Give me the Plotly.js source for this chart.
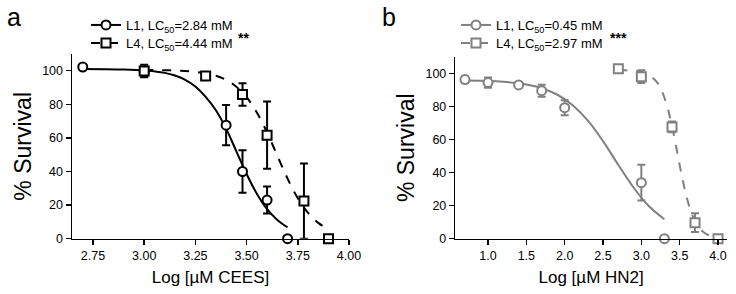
<!DOCTYPE html>
<html>
<head>
<meta charset="utf-8">
<script src="https://cdn.plot.ly/plotly-3.0.1.min.js"></script>
<style>html,body{margin:0;padding:0;background:#fff;}#chart{width:736px;height:294px;}</style>
</head>
<body>
<div id="chart"></div>
<script>
// ---------- Panel a (CEES) ----------
const aL1_x = [2.70, 3.00, 3.40, 3.48, 3.60, 3.70];
const aL1_y = [102.2, 99.2, 67.6, 40.0, 23.0, 0];
const aL1_err = [0, 2.5, 12, 12.7, 8, 0];
const aL4_x = [3.00, 3.30, 3.48, 3.60, 3.78, 3.90];
const aL4_y = [99.8, 96.8, 85.8, 61.6, 22.4, 0];
const aL4_err = [3.7, 1.5, 6.7, 20, 22.4, 0];
const aL1_fitx = [2.70, 2.80, 2.90, 3.00, 3.05, 3.10, 3.15, 3.20, 3.25, 3.30, 3.35, 3.40, 3.45, 3.50, 3.55, 3.60, 3.65, 3.70];
const aL1_fity = [101.0, 100.9, 100.7, 100.2, 99.6, 98.7, 97.1, 94.6, 90.6, 84.4, 76.5, 65.5, 52.0, 38.5, 26.8, 17.6, 11.2, 6.8];
const aL4_fitx = [3.00, 3.05, 3.10, 3.15, 3.20, 3.25, 3.30, 3.35, 3.40, 3.45, 3.50, 3.55, 3.60, 3.65, 3.70, 3.75, 3.80, 3.85, 3.90];
const aL4_fity = [100.4, 100.4, 100.3, 100.1, 99.8, 99.3, 98.5, 97.0, 94.5, 90.5, 84.2, 75.1, 63.2, 49.4, 35.8, 24.1, 15.4, 9.4, 5.6];
const aTicks = [2.75, 3.00, 3.25, 3.50, 3.75, 4.00];
const aTickText = ['2.75', '3.00', '3.25', '3.50', '3.75', '4.00'];

// ---------- Panel b (HN2) ----------
const bL1_x = [0.70, 1.00, 1.40, 1.70, 2.00, 3.00, 3.30];
const bL1_y = [96.2, 94.4, 93.0, 89.5, 79.2, 33.9, 0];
const bL1_err = [2, 3.1, 0, 3.6, 4.6, 10.8, 0];
const bL4_x = [2.70, 3.00, 3.40, 3.70, 4.00];
const bL4_y = [102.7, 98.0, 67.6, 9.7, 0];
const bL4_err = [0, 3.8, 3.2, 5.7, 0];
const bL1_fitx = [0.67, 0.90, 1.10, 1.30, 1.50, 1.70, 1.90, 2.10, 2.30, 2.50, 2.70, 2.90, 3.10, 3.30];
const bL1_fity = [95.7, 95.5, 95.2, 94.5, 93.2, 91.0, 87.2, 80.9, 71.5, 59.0, 44.6, 30.8, 19.6, 11.8];
const bL4_fitx = [2.70, 2.80, 2.90, 3.00, 3.10, 3.20, 3.25, 3.30, 3.35, 3.40, 3.45, 3.50, 3.55, 3.60, 3.65, 3.70, 3.80, 3.90, 4.00];
const bL4_fity = [101.9, 101.8, 101.6, 100.9, 99.1, 94.9, 91.0, 85.4, 77.8, 68.0, 56.5, 44.5, 33.2, 23.5, 16.0, 10.6, 4.4, 1.7, 0.7];
const bTicks = [1.0, 1.5, 2.0, 2.5, 3.0, 3.5, 4.0];
const bTickText = ['1.0', '1.5', '2.0', '2.5', '3.0', '3.5', '4.0'];

const yTicks = [0, 20, 40, 60, 80, 100];
const legendA = ['L1, LC<sub>50</sub>=2.84 mM', 'L4, LC<sub>50</sub>=4.44 mM'];
const legendB = ['L1, LC<sub>50</sub>=0.45 mM', 'L4, LC<sub>50</sub>=2.97 mM'];

const W = 736, H = 294;
const px = v => v / W;
const py = v => 1 - v / H;
const FONT = 'Liberation Sans, Arial, sans-serif';
const BLACK = '#000000';
const GRAY = '#808080';

function curve(x, y, color, dash, xa, ya) {
  return {x: x, y: y, xaxis: xa, yaxis: ya, type: 'scatter', mode: 'lines',
    line: {color: color, width: 2, dash: dash, shape: 'spline'}, showlegend: false, hoverinfo: 'skip'};
}
function pts(x, y, err, color, symbol, xa, ya) {
  return {x: x, y: y, xaxis: xa, yaxis: ya, type: 'scatter', mode: 'markers', cliponaxis: false,
    marker: {symbol: symbol, size: 9, color: '#ffffff', line: {color: color, width: 2}},
    error_y: {type: 'data', array: err, visible: true, color: color, thickness: 2, width: 4},
    showlegend: false};
}
function leg(name, color, symbol, dash, legendId, xa, ya) {
  return {x: [null], y: [null], xaxis: xa, yaxis: ya, type: 'scatter', mode: 'lines+markers', name: name,
    legend: legendId, line: {color: color, width: 2, dash: dash},
    marker: {symbol: symbol, size: 9, color: '#ffffff', line: {color: color, width: 2}}};
}

const data = [
  curve(aL1_fitx, aL1_fity, BLACK, 'solid', 'x', 'y'),
  curve(aL4_fitx, aL4_fity, BLACK, 'dash', 'x', 'y'),
  pts(aL1_x, aL1_y, aL1_err, BLACK, 'circle', 'x', 'y'),
  pts(aL4_x, aL4_y, aL4_err, BLACK, 'square', 'x', 'y'),
  leg(legendA[0], BLACK, 'circle', 'solid', 'legend', 'x', 'y'),
  leg(legendA[1], BLACK, 'square', 'dash', 'legend2', 'x', 'y'),
  curve(bL1_fitx, bL1_fity, GRAY, 'solid', 'x2', 'y2'),
  curve(bL4_fitx, bL4_fity, GRAY, 'dash', 'x2', 'y2'),
  pts(bL1_x, bL1_y, bL1_err, GRAY, 'circle', 'x2', 'y2'),
  pts(bL4_x, bL4_y, bL4_err, GRAY, 'square', 'x2', 'y2'),
  leg(legendB[0], GRAY, 'circle', 'solid', 'legend3', 'x2', 'y2'),
  leg(legendB[1], GRAY, 'square', 'dash', 'legend4', 'x2', 'y2')
];

const axBase = {showgrid: false, zeroline: false, showline: true, linecolor: '#000', linewidth: 1.5,
  ticks: 'outside', ticklen: 5, tickwidth: 1.5, tickcolor: '#000',
  tickfont: {family: FONT, size: 12.5, color: '#000'}, fixedrange: true};

function legBox(xpx, ytop) {
  return {x: px(xpx), xanchor: 'left', y: py(ytop), yanchor: 'top', bgcolor: 'rgba(0,0,0,0)',
    font: {family: FONT, size: 13, color: '#000'}, tracegroupgap: 0, itemclick: false};
}

const layout = {
  width: W, height: H, margin: {l: 0, r: 0, t: 0, b: 0},
  paper_bgcolor: '#fff', plot_bgcolor: 'rgba(0,0,0,0)',
  font: {family: FONT, color: '#000'},
  xaxis: Object.assign({}, axBase, {domain: [px(72), px(349)], range: [2.6475, 4.0], anchor: 'y',
    tickmode: 'array', tickvals: aTicks, ticktext: aTickText,
    title: {text: 'Log [µM CEES]', font: {family: FONT, size: 17}, standoff: 9}}),
  yaxis: Object.assign({}, axBase, {domain: [py(238.7), py(53.9)], range: [0, 110], anchor: 'x',
    tickmode: 'array', tickvals: yTicks, ticktext: yTicks.map(String),
    title: {text: '% Survival', font: {family: FONT, size: 23}, standoff: 4}}),
  xaxis2: Object.assign({}, axBase, {domain: [px(455.3), px(727)], range: [0.5735, 4.117], anchor: 'y2',
    tickmode: 'array', tickvals: bTicks, ticktext: bTickText,
    title: {text: 'Log [µM HN2]', font: {family: FONT, size: 17}, standoff: 9}}),
  yaxis2: Object.assign({}, axBase, {domain: [py(238.7), py(56.8)], range: [0, 110], anchor: 'x2',
    tickmode: 'array', tickvals: yTicks, ticktext: yTicks.map(String),
    title: {text: '% Survival', font: {family: FONT, size: 23}, standoff: 4}}),
  legend: legBox(86, 10),
  legend2: legBox(86, 28),
  legend3: legBox(456, 10),
  legend4: legBox(456, 28),
  annotations: [
    {text: 'a', xref: 'paper', yref: 'paper', x: px(14), y: py(17), xanchor: 'center', yanchor: 'middle',
      showarrow: false, font: {family: FONT, size: 25, color: '#000'}},
    {text: 'b', xref: 'paper', yref: 'paper', x: px(389), y: py(17), xanchor: 'center', yanchor: 'middle',
      showarrow: false, font: {family: FONT, size: 25, color: '#000'}},
    {text: '<b>**</b>', xref: 'paper', yref: 'paper', x: px(243), y: py(38), xanchor: 'center', yanchor: 'middle',
      showarrow: false, font: {family: FONT, size: 14, color: '#000'}},
    {text: '<b>***</b>', xref: 'paper', yref: 'paper', x: px(618), y: py(38), xanchor: 'center', yanchor: 'middle',
      showarrow: false, font: {family: FONT, size: 14, color: '#000'}}
  ]
};

Plotly.newPlot('chart', data, layout, {displayModeBar: false, staticPlot: true});
</script>
</body>
</html>
